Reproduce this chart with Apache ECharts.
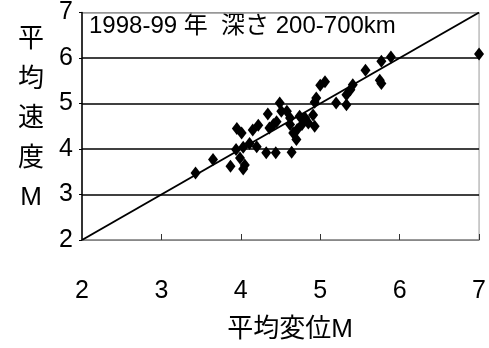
<!DOCTYPE html>
<html>
<head>
<meta charset="utf-8">
<script src="https://cdn.jsdelivr.net/npm/echarts@6/dist/echarts.min.js"></script>
<style>
html,body{margin:0;padding:0;background:#fff;}
#chart{width:489px;height:348px;}
</style>
</head>
<body>
<div id="chart"></div>
<script>
const titleText = '1998-99 年  深さ 200-700km';
const xName = '平均変位M';
const yName = '平\n均\n速\n度\nM';
const axisMin = 2, axisMax = 7, axisStep = 1;
// [平均変位M, 平均速度M]
const points = [
  [3.43,3.47],[3.65,3.77],[3.87,3.62],[3.94,3.99],[3.95,4.45],[4.01,4.35],
  [3.99,3.80],[4.03,3.56],[4.05,3.65],[4.03,4.04],[4.11,4.12],[4.20,4.05],
  [4.15,4.42],[4.22,4.52],[4.32,3.92],[4.44,3.92],[4.34,4.77],[4.36,4.46],
  [4.41,4.54],[4.45,4.60],[4.49,5.01],[4.51,4.83],[4.58,4.83],[4.62,4.68],
  [4.62,4.54],[4.66,4.35],[4.70,4.21],[4.71,4.43],[4.64,3.93],[4.74,4.72],
  [4.77,4.54],[4.81,4.68],[4.85,4.57],[4.91,4.75],[4.93,4.50],[4.93,5.03],
  [4.95,5.12],[5.00,5.40],[5.06,5.48],[5.20,5.01],[5.33,4.97],[5.33,5.19],
  [5.38,5.30],[5.41,5.41],[5.57,5.73],[5.75,5.51],[5.77,5.44],[5.77,5.93],
  [5.89,6.02],[7.00,6.09]
];
const diagonal = [[2,2],[7,7]];

const font = '"Liberation Sans","Noto Sans CJK JP",sans-serif';
const chart = echarts.init(document.getElementById('chart'), null, {renderer:'canvas'});
chart.setOption({
  animation:false,
  backgroundColor:'#fff',
  grid:{left:82,right:9,top:10,bottom:108,show:true,borderColor:'#999',borderWidth:1},
  xAxis:{
    type:'value',min:axisMin,max:axisMax,interval:axisStep,
    axisLine:{show:true,lineStyle:{color:'#888',width:1}},
    axisTick:{show:true,inside:true,length:6,lineStyle:{color:'#333',width:1}},
    axisLabel:{margin:39,fontSize:25,color:'#000',fontFamily:font},
    splitLine:{show:false}
  },
  yAxis:{
    type:'value',min:axisMin,max:axisMax,interval:axisStep,
    axisLine:{show:true,lineStyle:{color:'#000',width:1.5}},
    axisTick:{show:true,length:3,lineStyle:{color:'#000',width:1}},
    axisLabel:{margin:9,fontSize:25,color:'#000',fontFamily:font,padding:[20,0,0,0]},
    splitLine:{show:true,lineStyle:{color:['#888','#000','#000','#000','#000','#999'],width:1.5}}
  },
  graphic:[
    {type:'text',left:89,top:14,style:{text:titleText,font:'24px '+font,fill:'#000'}},
    {type:'text',x:290,y:330,style:{text:xName,font:'26px '+font,fill:'#000',textAlign:'center',textVerticalAlign:'middle'}},
    {type:'text',x:31,y:119,style:{text:yName,font:'26px '+font,fill:'#000',textAlign:'center',textVerticalAlign:'middle',lineHeight:39.5}}
  ],
  series:[
    {type:'line',data:diagonal,symbol:'none',lineStyle:{color:'#000',width:2},z:3},
    {type:'scatter',data:points,symbol:'diamond',symbolSize:[10,13],itemStyle:{color:'#000',opacity:1},z:4}
  ]
});
</script>
</body>
</html>
